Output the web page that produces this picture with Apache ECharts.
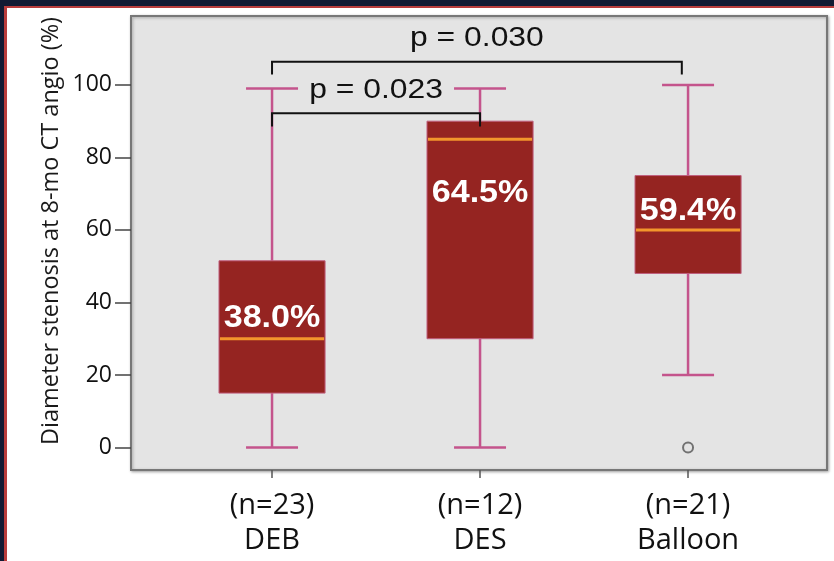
<!DOCTYPE html>
<html>
<head>
<meta charset="utf-8">
<script src="https://cdn.jsdelivr.net/npm/echarts@6/dist/echarts.min.js"></script>
<style>
  html, body { margin: 0; padding: 0; background: #ffffff; }
  #chart { width: 834px; height: 561px; }
</style>
</head>
<body>
<div id="chart"></div>
<script>
// Groups and their sample sizes
const groups = ['DEB', 'DES', 'Balloon'];
const groupSizes = [23, 12, 21];

// Box-plot summaries per group (% diameter stenosis)
const whiskerLow  = [0, 0, 20];
const quartile1   = [15, 30, 48];
const medians     = [30, 85, 60];
const quartile3   = [51.5, 90, 75];
const whiskerHigh = [99, 99, 100];

// Outlying observations: [group position, value]
const outliers = [[3, 0]];

// Mean stenosis printed inside each box, and the height it is printed at
const meanPct = [38.0, 64.5, 59.4];
const meanLabelLevel = [35.5, 70, 65.2];

// Pairwise comparisons: group positions, bracket height, tip height, p value
const compFrom  = [1, 1];
const compTo    = [2, 2.97];
const compLevel = [92.2, 106.4];
const compTip   = [88.5, 102.9];
const compP     = ['0.023', '0.030'];

const yTicks = [0, 20, 40, 60, 80, 100];
const xPositions = [1, 2, 3];

const BOX_W = 0.51;   // box width in category units
const CAP_W = 0.25;   // whisker cap width
const WHISKER = '#c4548c';
const BOX_FILL = '#952421';
const MEDIAN = '#f3962c';

const chart = echarts.init(document.getElementById('chart'));

function renderBox(params, api) {
  const x = api.value(0);
  const lo = api.coord([x, api.value(1)]);
  const q1 = api.coord([x, api.value(2)]);
  const md = api.coord([x, api.value(3)]);
  const q3 = api.coord([x, api.value(4)]);
  const hi = api.coord([x, api.value(5)]);
  const lab = api.coord([x, api.value(7)]);
  const half = api.size([BOX_W, 0])[0] / 2;
  const cap = api.size([CAP_W, 0])[0] / 2;
  const cx = lo[0];
  const lineStyle = { stroke: WHISKER, lineWidth: 2.5 };
  const meanText = api.value(6).toFixed(1) + '%';
  return {
    type: 'group',
    children: [
      { type: 'line', shape: { x1: cx, y1: hi[1], x2: cx, y2: q3[1] }, style: lineStyle },
      { type: 'line', shape: { x1: cx, y1: q1[1], x2: cx, y2: lo[1] }, style: lineStyle },
      { type: 'line', shape: { x1: cx - cap, y1: hi[1], x2: cx + cap, y2: hi[1] }, style: lineStyle },
      { type: 'line', shape: { x1: cx - cap, y1: lo[1], x2: cx + cap, y2: lo[1] }, style: lineStyle },
      {
        type: 'rect',
        shape: { x: cx - half, y: q3[1], width: half * 2, height: q1[1] - q3[1] },
        style: { fill: BOX_FILL, stroke: '#c0607f', lineWidth: 1 }
      },
      { type: 'line', shape: { x1: cx - half + 1, y1: md[1], x2: cx + half - 1, y2: md[1] },
        style: { stroke: MEDIAN, lineWidth: 3 } },
      {
        type: 'text',
        x: cx, y: lab[1],
        scaleX: 1.1,
        style: {
          text: meanText,
          fill: '#ffffff',
          font: 'bold 31px "Liberation Sans", Arial, sans-serif',
          align: 'center',
          verticalAlign: 'middle'
        }
      }
    ]
  };
}

function renderBracket(params, api) {
  const i = params.dataIndex;
  const a = api.coord([api.value(0), api.value(3)]);
  const b = api.coord([api.value(0), api.value(2)]);
  const c = api.coord([api.value(1), api.value(2)]);
  const d = api.coord([api.value(1), api.value(3)]);
  const mx = (b[0] + c[0]) / 2;
  const ty = b[1] - 23;
  return {
    type: 'group',
    children: [
      { type: 'polyline', shape: { points: [a, b, c, d] },
        style: { stroke: '#111111', lineWidth: 2, fill: null } },
      {
        type: 'text',
        x: mx, y: ty,
        scaleX: 1.18,
        style: {
          text: 'p = ' + compP[i],
          fill: '#111111',
          font: '27px "Liberation Sans", Arial, sans-serif',
          align: 'center',
          verticalAlign: 'middle'
        }
      }
    ]
  };
}

const boxData = groups.map((g, i) => [
  xPositions[i], whiskerLow[i], quartile1[i], medians[i], quartile3[i], whiskerHigh[i],
  meanPct[i], meanLabelLevel[i]
]);
const bracketData = compFrom.map((f, i) => [f, compTo[i], compLevel[i], compTip[i]]);

const option = {
  backgroundColor: '#ffffff',
  animation: false,
  graphic: [
    { type: 'rect', shape: { x: 0, y: 0, width: 834, height: 6 }, style: { fill: '#111a33' }, silent: true },
    { type: 'rect', shape: { x: 0, y: 0, width: 4, height: 561 }, style: { fill: '#111a33' }, silent: true },
    { type: 'rect', shape: { x: 4, y: 6, width: 830, height: 2 }, style: { fill: '#b83c3c' }, silent: true },
    { type: 'rect', shape: { x: 4, y: 6, width: 3, height: 555 }, style: { fill: '#b83c3c' }, silent: true }
  ],
  grid: {
    show: true,
    left: 131, right: 7, top: 16, bottom: 91,
    backgroundColor: '#e4e4e4',
    borderColor: '#777777',
    borderWidth: 2,
    shadowColor: 'rgba(0,0,0,0.3)',
    shadowBlur: 3,
    shadowOffsetX: 1,
    shadowOffsetY: 1
  },
  xAxis: {
    type: 'value',
    min: 0.322, max: 3.668,
    splitLine: { show: false },
    axisLine: { show: false, onZero: false },
    axisTick: { show: true, customValues: xPositions, length: 8, lineStyle: { color: '#555', width: 1.5 } },
    axisLabel: {
      customValues: xPositions,
      formatter: v => '(n=' + groupSizes[v - 1] + ')\n' + groups[v - 1],
      fontFamily: '"Open Sans", sans-serif',
      fontSize: 29,
      lineHeight: 35,
      color: '#111111',
      margin: 18
    }
  },
  yAxis: {
    type: 'value',
    min: -6.2, max: 119,
    name: 'Diameter stenosis at 8-mo CT angio (%)',
    nameLocation: 'middle',
    nameGap: 68,
    nameMoveOverlap: false,
    nameTextStyle: {
      fontFamily: '"Open Sans", sans-serif',
      fontSize: 23.5,
      color: '#1a1a1a',
      padding: [0, 0, 0, 24]
    },
    splitLine: { show: false },
    axisLine: { show: false, onZero: false },
    axisTick: { show: true, customValues: yTicks, length: 16, lineStyle: { color: '#444', width: 1.5 } },
    axisLabel: {
      customValues: yTicks,
      fontFamily: '"Open Sans", sans-serif',
      fontSize: 23,
      color: '#111111',
      margin: 19
    }
  },
  series: [
    {
      type: 'custom',
      renderItem: renderBox,
      data: boxData,
      encode: { x: 0, y: [1, 2, 3, 4, 5] },
      z: 3
    },
    {
      type: 'scatter',
      data: outliers,
      symbol: 'circle',
      symbolSize: 10,
      itemStyle: { color: '#e4e4e4', borderColor: '#555555', borderWidth: 2 },
      z: 4
    },
    {
      type: 'custom',
      renderItem: renderBracket,
      data: bracketData,
      encode: { x: [0, 1], y: [2, 3] },
      z: 5
    }
  ]
};

chart.setOption(option);
</script>
</body>
</html>
